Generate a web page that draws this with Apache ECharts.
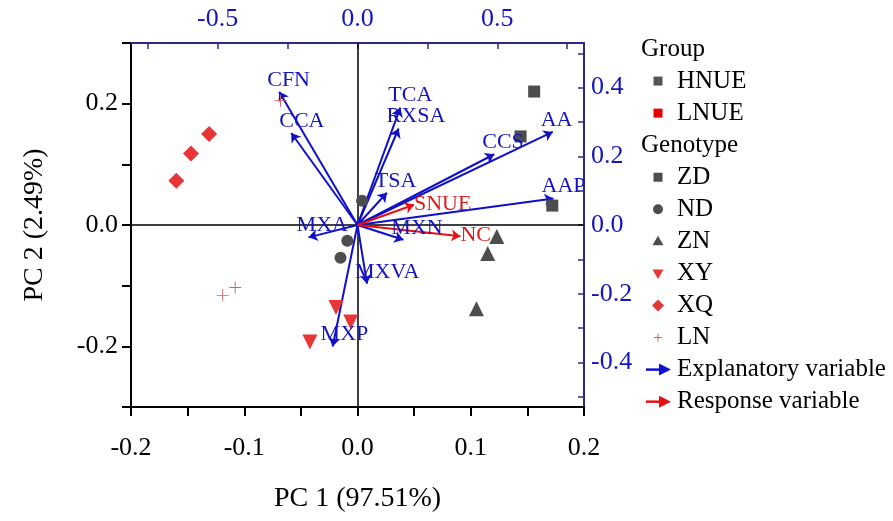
<!DOCTYPE html>
<html>
<head>
<meta charset="utf-8">
<script src="https://cdn.jsdelivr.net/npm/echarts@6/dist/echarts.min.js"></script>
<style>
  html, body { margin: 0; background: #fff; }
  #chart { width: 893px; height: 521px; }
</style>
</head>
<body>
<div id="chart"></div>
<script>
// sample scores, read on the bottom (PC 1) and left (PC 2) axes
const zdScores = [[0.156, 0.220], [0.144, 0.146], [0.172, 0.032]];
const ndScores = [[0.004, 0.040], [-0.009, -0.026], [-0.015, -0.054]];
const znScores = [[0.123, -0.019], [0.115, -0.047], [0.105, -0.138]];
const xyScores = [[-0.019, -0.136], [-0.006, -0.160], [-0.042, -0.193]];
const xqScores = [[-0.131, 0.150], [-0.147, 0.118], [-0.160, 0.073]];
const lnScores = [[-0.068, 0.205], [-0.119, -0.116], [-0.108, -0.103]];

// variable loadings, read on the top and right axes
const explanatoryNames = ["CFN", "CCA", "MXA", "TCA", "RXSA", "CCS", "AA", "AAP", "TSA", "MXN", "MXVA", "MXP"];
const explanatoryLoadings = [
    [-0.280, 0.388], [-0.237, 0.268], [-0.175, -0.036], [0.153, 0.342],
    [0.147, 0.281], [0.489, 0.206], [0.698, 0.271], [0.701, 0.077],
    [0.105, 0.094], [0.164, -0.043], [0.034, -0.171], [-0.089, -0.354],
];
const responseNames = ["SNUE", "NC"];
const responseLoadings = [[0.202, 0.059], [0.368, -0.033]];

const topTicks = [-0.75, -0.5, -0.25, 0, 0.25, 0.5, 0.75];
const topLabels = [-0.5, 0, 0.5];
const rightTicks = [-0.5, -0.4, -0.3, -0.2, -0.1, 0, 0.1, 0.2, 0.3, 0.4, 0.5];
const rightLabels = [-0.4, -0.2, 0, 0.2, 0.4];

const legendLabels = ["Group", "HNUE", "LNUE", "Genotype", "ZD", "ND", "ZN", "XY", "XQ", "LN", "Explanatory variable", "Response variable"];
const legendIcons = ["title", "square", "square", "title", "square", "circle", "triUp", "triDown", "diamond", "plus", "arrow", "arrow"];
const legendColors = ["#000", "#555555", "#e60000", "#000", "#4d4d4d", "#4d4d4d", "#4d4d4d", "#e83535", "#e83535", "#cc6666", "#1010d0", "#e81010"];

const SERIF = '"Liberation Serif", "Times New Roman", serif';
const GRAY = "#4d4d4d";
const RED = "#e83535";
const BLUE = "#1010c8";
const AXIS_BLUE = "#2a2a90";
const LABEL_BLUE = "#1414c0";

const fmt = (v) => (Math.abs(v) < 1e-9 ? 0 : v).toFixed(1);

function scoreSeries(name, data, symbol, color, size, extra) {
    return Object.assign({
        name: name,
        type: "scatter",
        xAxisIndex: 0,
        yAxisIndex: 0,
        data: data,
        symbol: symbol,
        symbolSize: size,
        itemStyle: { color: color, opacity: 1 },
        z: 4,
    }, extra || {});
}

function arrowSeries(names, loadings, color) {
    return {
        type: "lines",
        coordinateSystem: "cartesian2d",
        xAxisIndex: 1,
        yAxisIndex: 1,
        symbol: ["none", "arrow"],
        symbolSize: 9,
        lineStyle: { color: color, width: 2, opacity: 1 },
        data: names.map((n, i) => ({ name: n, coords: [[0, 0], loadings[i]] })),
        z: 3,
    };
}

function labelSeries(names, loadings, color, offset) {
    return {
        type: "scatter",
        xAxisIndex: 1,
        yAxisIndex: 1,
        symbolSize: 1,
        itemStyle: { color: "rgba(0,0,0,0)", opacity: 1 },
        clip: false,
        data: names.map((n, i) => ({ name: n, value: loadings[i] })),
        label: {
            show: true,
            position: "inside",
            align: "left",
            verticalAlign: "middle",
            offset: offset,
            formatter: "{b}",
            color: color,
            opacity: 1,
            fontSize: 22,
            fontFamily: SERIF,
        },
        z: 5,
    };
}

function legendGraphics() {
    const els = [];
    legendLabels.forEach((label, i) => {
        const y = 49 + i * 32.06;
        const icon = legendIcons[i];
        const color = legendColors[i];
        const isTitle = icon === "title";
        els.push({
            type: "text",
            x: isTitle ? 641 : 677,
            y: y,
            style: { text: label, fill: "#000", fontSize: 25, fontFamily: SERIF, verticalAlign: "middle", align: "left" },
        });
        if (isTitle) return;
        const base = { x: 658, y: y, style: { fill: color } };
        if (icon === "square") {
            els.push(Object.assign({ type: "rect", shape: { x: -4.5, y: -4.5, width: 9, height: 9 } }, base));
        } else if (icon === "circle") {
            els.push(Object.assign({ type: "circle", shape: { cx: 0, cy: 0, r: 5 } }, base));
        } else if (icon === "triUp") {
            els.push(Object.assign({ type: "polygon", shape: { points: [[-5.5, 4], [5.5, 4], [0, -5.5]] } }, base));
        } else if (icon === "triDown") {
            els.push(Object.assign({ type: "polygon", shape: { points: [[-5.5, -4], [5.5, -4], [0, 5.5]] } }, base));
        } else if (icon === "diamond") {
            els.push(Object.assign({ type: "polygon", shape: { points: [[0, -6], [6, 0], [0, 6], [-6, 0]] } }, base));
        } else if (icon === "plus") {
            els.push({ type: "line", x: 658, y: y, shape: { x1: -4, y1: 0, x2: 4, y2: 0 }, style: { stroke: color, lineWidth: 1 } });
            els.push({ type: "line", x: 658, y: y, shape: { x1: 0, y1: -4, x2: 0, y2: 4 }, style: { stroke: color, lineWidth: 1 } });
        } else if (icon === "arrow") {
            els.push({ type: "line", x: 0, y: y, shape: { x1: 646, y1: 0, x2: 662, y2: 0 }, style: { stroke: color, lineWidth: 2.5 } });
            els.push({ type: "polygon", x: 0, y: y, shape: { points: [[659, -6], [671, 0], [659, 6]] }, style: { fill: color } });
        }
    });
    return els;
}

const chart = echarts.init(document.getElementById("chart"), null, { renderer: "canvas" });

const option = {
    animation: false,
    backgroundColor: "#fff",
    grid: { left: 131, top: 43, width: 453, height: 364, containLabel: false },
    xAxis: [
        {
            type: "value",
            position: "bottom",
            min: -0.2,
            max: 0.2,
            interval: 0.05,
            name: "PC 1 (97.51%)",
            nameLocation: "middle",
            nameGap: 78,
            nameTextStyle: { fontSize: 28, fontFamily: SERIF, color: "#000" },
            axisLine: { show: true, onZero: false, lineStyle: { color: "#000", width: 2 } },
            axisTick: { show: true, inside: false, length: 9, lineStyle: { color: "#000", width: 2 } },
            axisLabel: {
                margin: 28,
                fontSize: 26,
                fontFamily: SERIF,
                color: "#000",
                formatter: (v) => (Math.round(v * 100) % 10 === 0 ? fmt(v) : ""),
            },
            splitLine: { show: false },
        },
        {
            type: "value",
            position: "top",
            min: -0.81,
            max: 0.81,
            axisLine: { show: true, onZero: false, lineStyle: { color: AXIS_BLUE, width: 2 } },
            axisTick: { show: true, inside: true, length: 6, customValues: topTicks, lineStyle: { color: AXIS_BLUE, width: 1.5 } },
            axisLabel: { customValues: topLabels, margin: 11, fontSize: 26, fontFamily: SERIF, color: LABEL_BLUE, formatter: fmt },
            splitLine: { show: false },
        },
    ],
    yAxis: [
        {
            type: "value",
            position: "left",
            min: -0.3,
            max: 0.3,
            interval: 0.1,
            name: "PC 2 (2.49%)",
            nameLocation: "middle",
            nameGap: 82,
            nameRotate: 90,
            nameTextStyle: { fontSize: 28, fontFamily: SERIF, color: "#000" },
            axisLine: { show: true, onZero: false, lineStyle: { color: "#000", width: 2 } },
            axisTick: { show: true, inside: false, length: 9, lineStyle: { color: "#000", width: 2 } },
            axisLabel: {
                margin: 13,
                fontSize: 26,
                fontFamily: SERIF,
                color: "#000",
                formatter: (v) => (Math.round(v * 10) % 2 === 0 && Math.abs(v) < 0.25 ? fmt(v) : ""),
            },
            splitLine: { show: false },
        },
        {
            type: "value",
            position: "right",
            min: -0.53,
            max: 0.53,
            axisLine: { show: true, onZero: false, lineStyle: { color: AXIS_BLUE, width: 2 } },
            axisTick: { show: true, inside: true, length: 6, customValues: rightTicks, lineStyle: { color: AXIS_BLUE, width: 1.5 } },
            axisLabel: { customValues: rightLabels, margin: 7, fontSize: 26, fontFamily: SERIF, color: LABEL_BLUE, formatter: fmt },
            splitLine: { show: false },
        },
    ],
    series: [
        scoreSeries("ZD", zdScores, "rect", GRAY, 12, {
            markLine: {
                silent: true,
                symbol: ["none", "none"],
                label: { show: false },
                lineStyle: { color: "#000", width: 1.5, type: "solid" },
                data: [{ xAxis: 0 }, { yAxis: 0 }],
                z: 1,
            },
        }),
        scoreSeries("ND", ndScores, "circle", GRAY, 12),
        scoreSeries("ZN", znScores, "triangle", GRAY, 15),
        scoreSeries("XY", xyScores, "triangle", RED, 15, { symbolRotate: 180 }),
        scoreSeries("XQ", xqScores, "diamond", RED, 16),
        scoreSeries("LN", lnScores, "path://M4.6,0h0.8v10h-0.8z M0,4.6h10v0.8h-10z", "#cc6666", 12),
        arrowSeries(explanatoryNames, explanatoryLoadings, BLUE),
        arrowSeries(responseNames, responseLoadings, "#e81010"),
        labelSeries(explanatoryNames, explanatoryLoadings, LABEL_BLUE, [-12, -12]),
        labelSeries(responseNames, responseLoadings, "#d81e1e", [0, -1]),
    ],
    graphic: legendGraphics(),
};

chart.setOption(option);
window.addEventListener("resize", () => chart.resize());
</script>
</body>
</html>
